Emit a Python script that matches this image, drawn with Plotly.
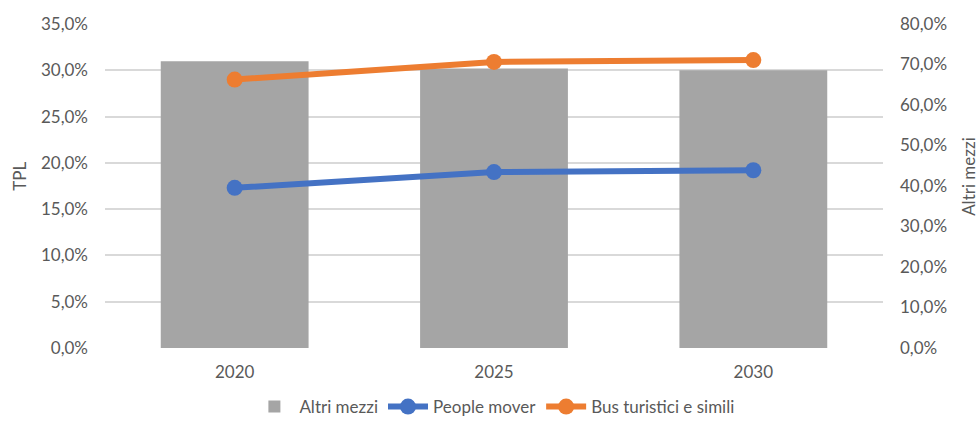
import plotly.graph_objects as go

# Data
years = ["2020", "2025", "2030"]
altri_mezzi = [0.708, 0.690, 0.686]      # right axis
people_mover = [0.173, 0.190, 0.192]     # left axis (TPL)
bus_turistici = [0.290, 0.309, 0.311]    # left axis (TPL)

FONT = "Lato"
TEXT = "#595959"
GRID = "#D9D9D9"

fig = go.Figure()

fig.add_trace(go.Bar(
    x=years, y=altri_mezzi, name="Altri mezzi",
    marker=dict(color="#A5A5A5", line=dict(width=0)),
    yaxis="y", width=0.57,
))
fig.add_trace(go.Scatter(
    x=years, y=people_mover, name="People mover", mode="lines+markers",
    line=dict(color="#4472C4", width=6),
    marker=dict(color="#4472C4", size=16),
    yaxis="y2",
))
fig.add_trace(go.Scatter(
    x=years, y=bus_turistici, name="Bus turistici e simili", mode="lines+markers",
    line=dict(color="#ED7D31", width=6),
    marker=dict(color="#ED7D31", size=16),
    yaxis="y2",
))

fig.update_layout(
    width=979, height=424,
    margin=dict(l=105, r=96, t=24, b=76, autoexpand=False),
    paper_bgcolor="white", plot_bgcolor="white",
    separators=",.",
    font=dict(family=FONT, size=17, color=TEXT),
    showlegend=True,
    legend=dict(orientation="h", x=0.505, xanchor="center", xref="container",
                y=0.04, yanchor="middle", yref="container",
                font=dict(size=17, color=TEXT), itemwidth=40,
                tracegroupgap=0),
    xaxis=dict(showgrid=False, showline=False, ticks="", automargin=False,
               ticklabelstandoff=12, tickfont=dict(size=17, color=TEXT)),
    yaxis=dict(side="right", range=[0, 0.8], dtick=0.1, tickformat=".1%",
               showgrid=False, zeroline=False, showline=False, ticks="",
               automargin=False, ticklabelstandoff=16,
               tickfont=dict(size=17, color=TEXT)),
    yaxis2=dict(side="left", overlaying="y", range=[0, 0.35], dtick=0.05, tickformat=".1%",
                showgrid=True, gridcolor=GRID, gridwidth=1.5, zeroline=False,
                showline=False, ticks="", automargin=False, ticklabelstandoff=16,
                tickfont=dict(size=17, color=TEXT)),
    annotations=[
        dict(text="TPL", xref="paper", yref="paper", x=-0.110, y=0.53, xanchor="center",
             yanchor="middle", textangle=-90, showarrow=False,
             font=dict(size=17, color=TEXT)),
        dict(text="Altri mezzi", xref="paper", yref="paper", x=1.110, y=0.53,
             xanchor="center", yanchor="middle", textangle=-90, showarrow=False,
             font=dict(size=17, color=TEXT)),
    ],
)

fig.write_html("out.html")
